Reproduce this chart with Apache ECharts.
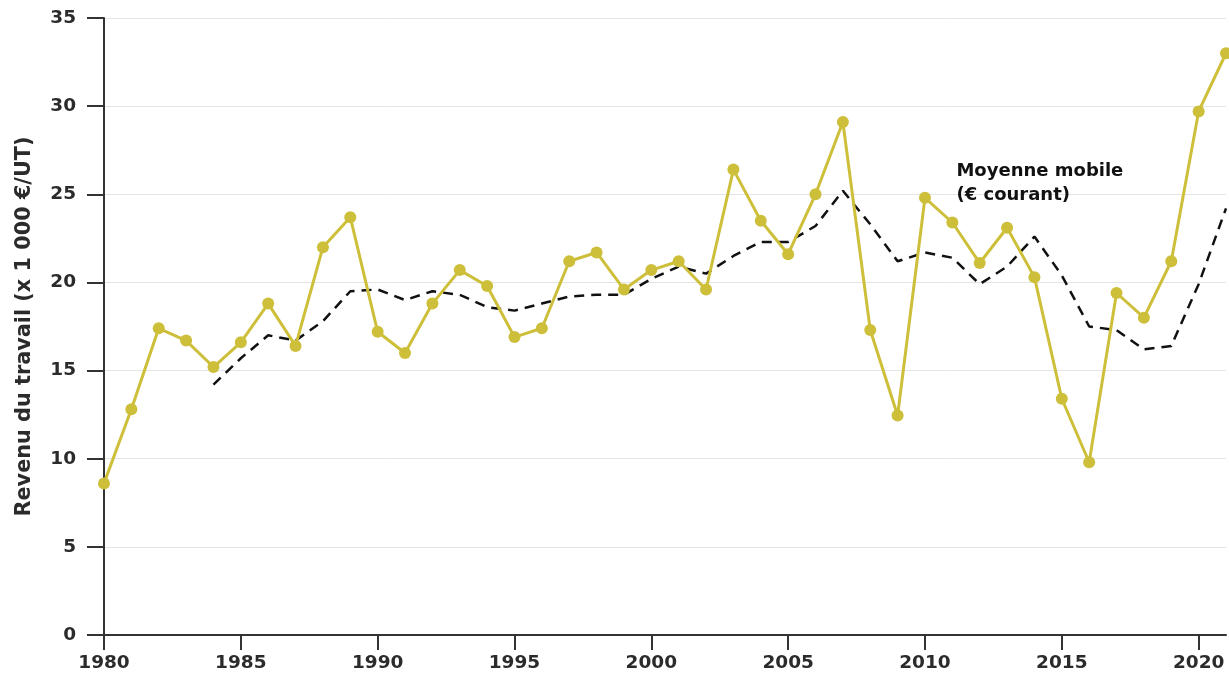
<!DOCTYPE html>
<html>
<head>
<meta charset="utf-8">
<script src="https://cdn.jsdelivr.net/npm/echarts@6/dist/echarts.min.js"></script>
<style>
html,body{margin:0;padding:0;background:#fff;}
#chart{width:1229px;height:673px;}
</style>
</head>
<body>
<div id="chart"></div>
<script>
const years = [1980,1981,1982,1983,1984,1985,1986,1987,1988,1989,1990,1991,1992,1993,1994,1995,1996,1997,1998,1999,2000,2001,2002,2003,2004,2005,2006,2007,2008,2009,2010,2011,2012,2013,2014,2015,2016,2017,2018,2019,2020,2021];
const revenu = [8.6,12.8,17.4,16.7,15.2,16.6,18.8,16.4,22.0,23.7,17.2,16.0,18.8,20.7,19.8,16.9,17.4,21.2,21.7,19.6,20.7,21.2,19.6,26.4,23.5,21.6,25.0,29.1,17.3,12.45,24.8,23.4,21.1,23.1,20.3,13.4,9.8,19.4,18.0,21.2,29.7,33.0];
const moyenne = [null,null,null,null,14.2,15.7,17.0,16.7,17.8,19.5,19.6,19.0,19.5,19.3,18.6,18.4,18.8,19.2,19.3,19.3,20.2,20.9,20.5,21.5,22.3,22.3,23.2,25.2,23.3,21.2,21.7,21.4,19.9,20.9,22.6,20.4,17.5,17.3,16.2,16.4,19.9,24.2];
const yTicks = [0,5,10,15,20,25,30,35];
const yAxisTitle = 'Revenu du travail (x 1 000 €/UT)';
const annotation = 'Moyenne mobile\n(€ courant)';
const annotationAt = [2011.15, 25.64];

const font = 'DejaVu Sans';
const chart = echarts.init(document.getElementById('chart'));
chart.setOption({
  animation: false,
  backgroundColor: '#fff',
  grid: {left: 104, right: 3, top: 18, bottom: 36, containLabel: false},
  xAxis: {
    type: 'value', min: 1980, max: 2021, interval: 5,
    axisLine: {show: true, onZero: false, lineStyle: {color: '#333', width: 2}},
    axisTick: {show: true, length: 15, lineStyle: {color: '#333', width: 2}},
    splitLine: {show: false},
    axisLabel: {color: '#2b2b2b', fontFamily: font, fontWeight: 'bold', fontSize: 18.5, margin: 19,
      showMaxLabel: false, formatter: v => String(v)}
  },
  yAxis: {
    type: 'value', min: yTicks[0], max: yTicks[yTicks.length-1], interval: 5,
    name: yAxisTitle, nameLocation: 'middle', nameGap: 69,
    nameTextStyle: {color: '#2b2b2b', fontFamily: font, fontWeight: 'bold', fontSize: 20.8},
    axisLine: {show: true, lineStyle: {color: '#333', width: 2}},
    axisTick: {show: true, length: 17, lineStyle: {color: '#333', width: 2}},
    splitLine: {show: true, lineStyle: {color: '#e4e4e4', width: 1}},
    axisLabel: {color: '#2b2b2b', fontFamily: font, fontWeight: 'bold', fontSize: 18.5, margin: 28,
      formatter: v => String(v)}
  },
  series: [
    {
      type: 'line', name: 'Moyenne mobile',
      data: years.map((y,i) => [y, moyenne[i]]),
      showSymbol: false, connectNulls: false,
      lineStyle: {color: '#111', width: 2.5, type: [10, 7]},
      z: 3,
      markPoint: {
        symbol: 'circle', symbolSize: 0,
        data: [{coord: annotationAt, value: annotation}],
        label: {show: true, position: 'right', distance: 0, formatter: annotation,
          color: '#111', fontFamily: font, fontWeight: 'bold', fontSize: 18, lineHeight: 24, align: 'left'}
      }
    },
    {
      type: 'line', name: 'Revenu',
      data: years.map((y,i) => [y, revenu[i]]),
      symbol: 'circle', symbolSize: 12, showSymbol: true,
      itemStyle: {color: '#cdbf3a'},
      lineStyle: {color: '#cdbf3a', width: 3},
      z: 4
    }
  ]
});
</script>
</body>
</html>
